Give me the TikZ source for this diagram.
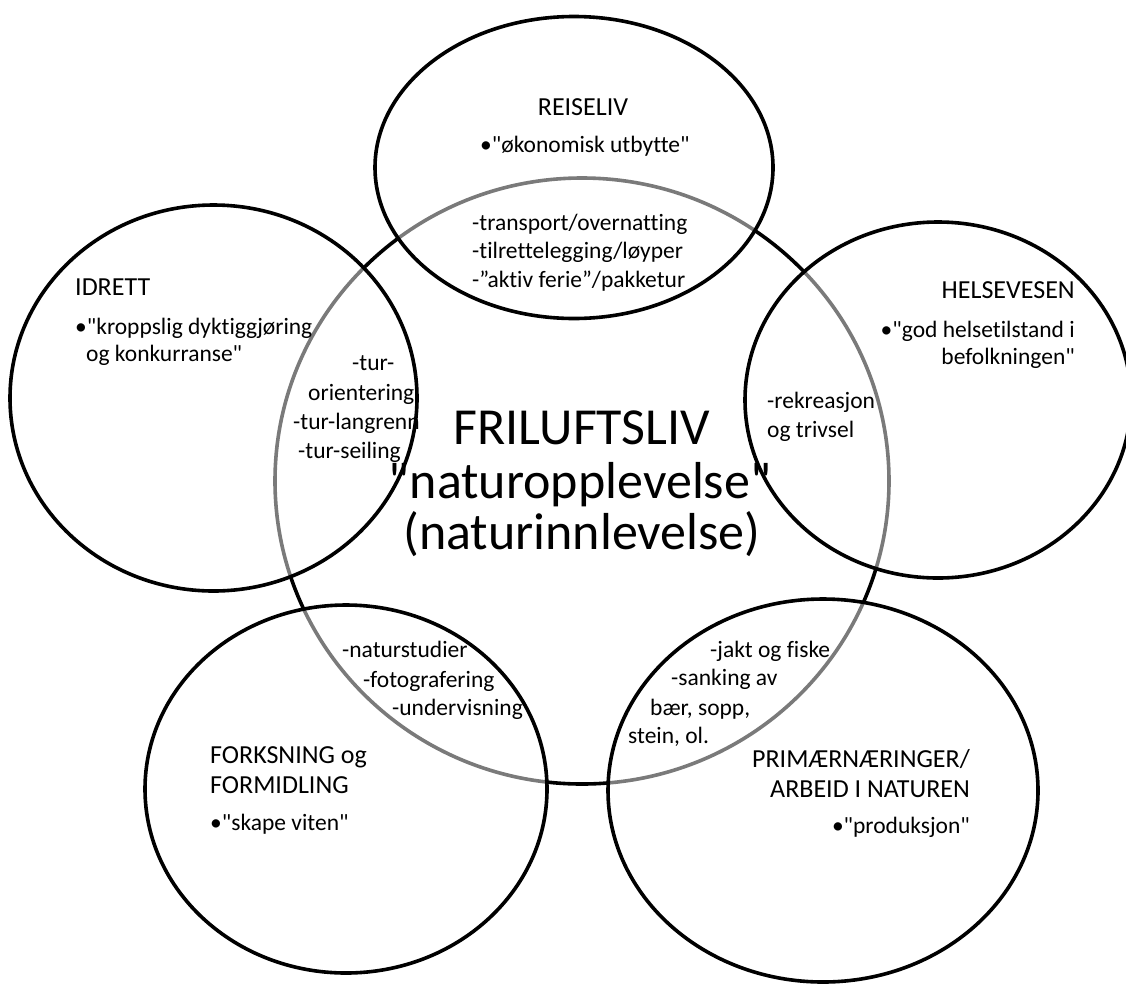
\documentclass[tikz,border=0pt]{standalone}
\usepackage{fontspec}
\setmainfont{Carlito}[Ligatures={TeXOff,CommonOff}]
\usetikzlibrary{shapes.geometric}
\begin{document}
\begin{tikzpicture}[x=1pt,y=-1pt,
  ring/.style={draw=black, line width=3.6pt, ellipse, inner sep=0pt, outer sep=0pt},
  sat/.style={ring, fill=white, fill opacity=0.48, draw opacity=1},
  head/.style={font=\fontsize{26}{30}\selectfont, inner sep=0pt},
  body/.style={font=\fontsize{23.5}{28}\selectfont, inner sep=0pt},
  big/.style={font=\fontsize{52}{56}\selectfont, inner sep=0pt}]
\useasboundingbox (0,0) rectangle (1126,983);
% central circle
\node[ring, minimum width=614pt, minimum height=606pt] (fri) at (582,481) {};
% satellites
\node[sat, minimum width=398pt, minimum height=302pt] (reise) at (574,167.5) {};
\node[sat, minimum width=407pt, minimum height=386pt] (idrett) at (213.5,398) {};
\node[sat, minimum width=386pt, minimum height=356pt] (helse) at (938,400) {};
\node[sat, minimum width=402pt, minimum height=368pt] (forsk) at (346,789) {};
\node[sat, minimum width=430pt, minimum height=383pt] (prim) at (823,790.5) {};
% REISELIV
\node[head, anchor=base] (reiseT) at (583,115) {REISELIV};
\node[body, anchor=base west] (reiseB) at (480,152) {•"økonomisk utbytte"};
\node[body, anchor=base west] (rs1) at (472,230) {-transport/overnatting};
\node[body, anchor=base west] (rs2) at (472,258.5) {-tilrettelegging/løyper};
\node[body, anchor=base west] (rs3) at (472,287) {-”aktiv ferie”/pakketur};
% IDRETT
\node[head, anchor=base west] (idrT) at (75,295) {IDRETT};
\node[body, anchor=base west] (idrB1) at (75,334) {•"kroppslig dyktiggjøring};
\node[body, anchor=base west] (idrB2) at (86,361) {og konkurranse"};
\node[body, anchor=base west] (tu1) at (352,370) {-tur-};
\node[body, anchor=base west] (tu2) at (308,400) {orientering};
\node[body, anchor=base west] (tu3) at (293,429) {-tur-langrenn};
\node[body, anchor=base west] (tu4) at (298,458) {-tur-seiling};
% HELSEVESEN
\node[head, anchor=base east] (helT) at (1075,298) {HELSEVESEN};
\node[body, anchor=base east] (helB1) at (1075,337) {•"god helsetilstand i};
\node[body, anchor=base east] (helB2) at (1075,364) {befolkningen"};
\node[body, anchor=base west] (hs1) at (767,408) {-rekreasjon};
\node[body, anchor=base west] (hs2) at (767,437) {og trivsel};
% centre
\node[big, anchor=base] (friT) at (582,444) {FRILUFTSLIV};
\node[big, anchor=base] (friB1) at (580,498) {"naturopplevelse"};
\node[big, anchor=base] (friB2) at (582,549) {(naturinnlevelse)};
% FORSKNING
\node[body, anchor=base west] (fs1) at (342,657) {-naturstudier};
\node[body, anchor=base west] (fs2) at (363,687) {-fotografering};
\node[body, anchor=base west] (fs3) at (392,715) {-undervisning};
\node[head, anchor=base west] (forT1) at (210,763) {FORKSNING og};
\node[head, anchor=base west] (forT2) at (210,793) {FORMIDLING};
\node[body, anchor=base west] (forB) at (210,830) {•"skape viten"};
% PRIMAER
\node[body, anchor=base west] (ps1) at (710,657) {-jakt og fiske};
\node[body, anchor=base west] (ps2) at (671,685) {-sanking av};
\node[body, anchor=base west] (ps3) at (650,715) {bær, sopp,};
\node[body, anchor=base west] (ps4) at (628,743) {stein, ol.};
\node[head, anchor=base east] (priT1) at (970,767) {PRIMÆRNÆRINGER/};
\node[head, anchor=base east] (priT2) at (970,797) {ARBEID I NATUREN};
\node[body, anchor=base east] (priB) at (970,833) {•"produksjon"};
\end{tikzpicture}
\end{document}
